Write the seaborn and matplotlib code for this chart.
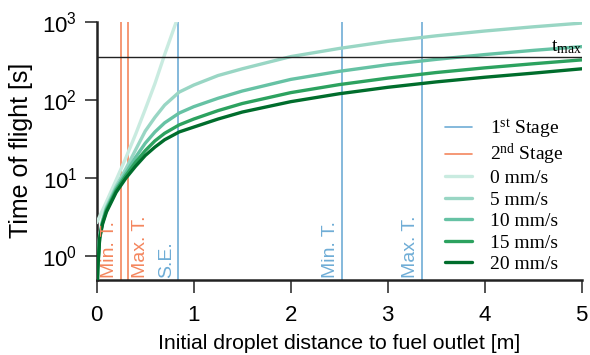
import numpy as np
import pandas as pd
import matplotlib
matplotlib.use("Agg")
import matplotlib.pyplot as plt
from matplotlib.lines import Line2D
import seaborn as sns

# ---------------- data ----------------
d_zero = [0.0, 0.1, 0.2, 0.3, 0.4, 0.5, 0.6, 0.7, 0.8, 0.9]
t_zero = [2.7, 5.0, 9.5, 18.2, 36.3, 76, 162, 380, 851, 1900]

d_grid = [0.005, 0.01, 0.03, 0.06, 0.1, 0.2, 0.3, 0.4, 0.5, 0.6,
          0.7, 0.85, 1.0, 1.25, 1.5, 2.0, 2.5, 3.0, 3.5, 4.0, 4.5, 5.0]
t_5mm = [0.4, 0.75, 1.9, 2.9, 4.3, 7.9, 13.2, 23, 40, 60,
         86, 126, 155, 205, 250, 358, 455, 560, 660, 760, 860, 960]
t_10mm = [0.4, 0.72, 1.8, 2.8, 4.1, 7.4, 11.7, 18.5, 28, 39,
          51, 68, 82, 105, 130, 183, 232, 282, 330, 380, 430, 480]
t_15mm = [0.4, 0.7, 1.75, 2.7, 3.9, 7.0, 10.8, 16, 22.5, 30,
          37.5, 48, 57, 73, 90, 124, 157, 190, 224, 257, 290, 325]
t_20mm = [0.4, 0.68, 1.7, 2.6, 3.7, 6.6, 10.0, 14.2, 19.5, 25,
          31, 39, 45, 57, 70, 95, 120, 145, 170, 195, 220, 250]

series_labels = ["0 mm/s", "5 mm/s", "10 mm/s", "15 mm/s", "20 mm/s"]
series_colors = ["#c9ebe0", "#99d6c4", "#66c2a4", "#2ca25f", "#006d2c"]

stage1_x = [0.84, 2.53, 3.355]
stage1_labels = ["S.E.", "Min. T.", "Max. T."]
stage2_x = [0.255, 0.325]
stage2_labels = ["Min. T.", "Max. T."]
stage_legend_labels = [r"$\mathrm{1^{st}}$ Stage", r"$\mathrm{2^{nd}}$ Stage"]
t_max = 357

blue = "#6fadd6"
orange = "#f4865e"

# ---------------- styling ----------------
sns.set_theme(style="ticks")
plt.rcParams["font.family"] = ["Liberation Sans", "DejaVu Sans"]
plt.rcParams["mathtext.fontset"] = "custom"
plt.rcParams["mathtext.rm"] = "Liberation Serif"
plt.rcParams["mathtext.it"] = "Liberation Serif:italic"
for k in ["text.color", "axes.labelcolor", "xtick.color", "ytick.color",
          "axes.edgecolor"]:
    plt.rcParams[k] = "black"

fig = plt.figure(figsize=(5.9, 3.55), dpi=100)
ax = fig.add_axes([0.164, 0.2113, 0.822, 0.7276])

# curves
frames = [pd.DataFrame({"d": d_zero, "t": t_zero, "s": series_labels[0]})]
for lab, vals in zip(series_labels[1:], [t_5mm, t_10mm, t_15mm, t_20mm]):
    frames.append(pd.DataFrame({"d": d_grid, "t": vals, "s": lab}))
df = pd.concat(frames, ignore_index=True)

for lab, col in zip(series_labels, series_colors):
    sub = df[df["s"] == lab]
    sns.lineplot(data=sub, x="d", y="t", color=col, lw=2.4, ax=ax,
                 legend=False, zorder=3)

# vertical lines and labels
for xv, lab in zip(stage1_x, stage1_labels):
    ax.axvline(xv, color=blue, lw=1.2, zorder=2)
    ax.annotate(lab, xy=(xv, 0.5), xytext=(-2.5, 1.5), textcoords="offset points",
                rotation=90, ha="right", va="bottom", color=blue, fontsize=14)
for i, (xv, lab) in enumerate(zip(stage2_x, stage2_labels)):
    ax.axvline(xv, color=orange, lw=1.2, zorder=2)
    if i == 0:
        ax.annotate(lab, xy=(xv, 0.5), xytext=(-2.5, 1.5), textcoords="offset points",
                    rotation=90, ha="right", va="bottom", color=orange, fontsize=14)
    else:
        ax.annotate(lab, xy=(xv, 0.5), xytext=(2.5, 1.5), textcoords="offset points",
                    rotation=90, ha="left", va="bottom", color=orange, fontsize=14)

# t_max
ax.axhline(t_max, color="#222222", lw=1.0, zorder=4)
ax.annotate(r"$\mathrm{t_{max}}$", xy=(5, t_max), xytext=(0, 0.5),
            textcoords="offset points", ha="right", va="bottom",
            fontsize=14, color="black")

ax.set_yscale("log")
ax.set_xlim(0, 5)
ax.set_ylim(0.5, 1000)
ax.set_xticks([0, 1, 2, 3, 4, 5])
ax.set_yticks([1, 10, 100, 1000])
ax.yaxis.set_minor_locator(matplotlib.ticker.NullLocator())
ax.tick_params(axis="both", which="major", labelsize=16, length=9, width=1.2,
               color="#333333", direction="out", pad=5)
ax.tick_params(axis="x", pad=9)
for sp in ["left", "bottom"]:
    ax.spines[sp].set_linewidth(1.8)
    ax.spines[sp].set_color("#222222")
sns.despine(ax=ax)

ax.set_xlabel("Initial droplet distance to fuel outlet [m]", fontsize=15.3, labelpad=6)
ax.set_ylabel("Time of flight [s]", fontsize=18, labelpad=7)

# legends (stage lines, then droplet speeds) with matching row pitch
leg_kw = dict(frameon=False, prop={"family": "Liberation Serif", "size": 14},
              handlelength=1.4, handletextpad=0.93, borderaxespad=0.0,
              borderpad=0.0)
stage_handles = [Line2D([], [], color=blue, lw=1.2),
                 Line2D([], [], color=orange, lw=1.2)]
leg1 = ax.legend(stage_handles, stage_legend_labels, loc="lower left",
                 bbox_to_anchor=(0.7175, 0.4365), labelspacing=0.07, **leg_kw)
ax.add_artist(leg1)
speed_handles = [Line2D([], [], color=c, lw=2.4) for c in series_colors]
leg2 = ax.legend(speed_handles, series_labels, loc="lower left",
                 bbox_to_anchor=(0.7175, 0.027), labelspacing=0.2, **leg_kw)

fig.savefig("out.png", dpi=100)
